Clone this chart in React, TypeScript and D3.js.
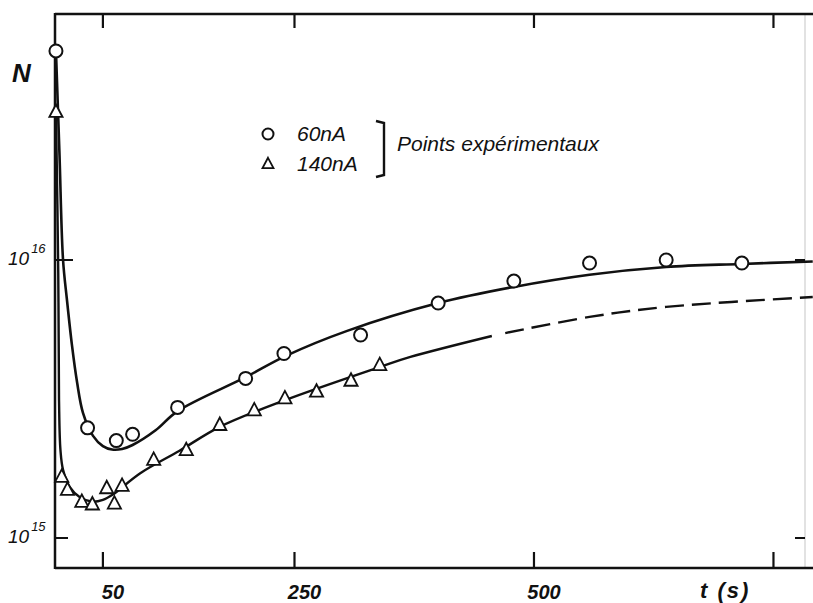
import React from "react";
import * as d3 from "d3";

// ---- data (t in seconds, N dimensionless) ----
const circT = [1, 34, 64, 81, 128, 199, 239, 319, 400, 479, 558, 638, 717];
const circN = [5.65e16, 2.49e15, 2.24e15, 2.36e15, 2.95e15, 3.75e15, 4.61e15, 5.37e15, 7.0e15, 8.4e15, 9.75e15, 1.0e16, 9.75e15];

const triT = [1, 7, 13, 28, 39, 54, 62, 70, 103, 137, 172, 208, 240, 273, 309, 339];
const triN = [3.41e16, 1.66e15, 1.49e15, 1.35e15, 1.32e15, 1.51e15, 1.33e15, 1.54e15, 1.91e15, 2.07e15, 2.55e15, 2.88e15, 3.18e15, 3.36e15, 3.68e15, 4.19e15];

const curve60T = [1, 4.7, 8.4, 12.5, 17.7, 23, 29.2, 39.7, 50, 59.5, 70, 81, 105, 128, 199, 241, 305, 400, 479, 558, 638, 717, 791];
const curve60N = [5.65e16, 2.39e16, 1.0e16, 7.18e15, 4.94e15, 3.64e15, 2.82e15, 2.33e15, 2.14e15, 2.08e15, 2.09e15, 2.16e15, 2.44e15, 2.86e15, 3.79e15, 4.52e15, 5.56e15, 7.0e15, 8.0e15, 8.85e15, 9.44e15, 9.68e15, 9.88e15];

const curve140T = [1, 3.4, 4.2, 5.7, 8.4, 15.7, 26, 39, 50, 60, 89, 130, 172, 240, 339, 371, 456];
const curve140N = [3.44e16, 8.98e15, 3.13e15, 2.07e15, 1.76e15, 1.52e15, 1.4e15, 1.35e15, 1.37e15, 1.43e15, 1.71e15, 2.06e15, 2.51e15, 3.13e15, 4.12e15, 4.48e15, 5.33e15];

const dashT = [470, 558, 638, 791];
const dashN = [5.46e15, 6.24e15, 6.78e15, 7.36e15];

const xTicks = [50, 250, 500, 750];
const xTickLabels = ["50", "250", "500", ""];
const yTicks = [1e15, 1e16];
const yTickExp = ["15", "16"];

const legendLabels = ["60nA", "140nA"];
const legendTitle = "Points expérimentaux";

const FONT = "'Liberation Sans', Arial, sans-serif";

export default function App() {
  const W = 813, H = 603;
  const x = d3.scaleLinear().domain([0, 792]).range([55, 813.7]);
  const y = d3.scaleLog().domain([Math.pow(10, 14.892), Math.pow(10, 16.885)]).range([568, 14]);
  const left = x(0), right = 805, top = 14, bottom = 568;

  const line = d3.line<[number, number]>()
    .x((d) => x(d[0]))
    .y((d) => y(d[1]))
    .curve(d3.curveCatmullRom.alpha(0.5));

  const zip = (a: number[], b: number[]) => a.map((v, i) => [v, b[i]] as [number, number]);

  const triPath = (cx: number, cy: number, s: number) =>
    `M${cx},${cy - s * 0.62}L${cx + s * 0.55},${cy + s * 0.42}L${cx - s * 0.55},${cy + s * 0.42}Z`;

  return (
    <svg width={W} height={H} style={{ position: "absolute", left: 0, top: 0, background: "#fff" }}>
      <rect x={0} y={0} width={W} height={H} fill="#fff" />
      {/* frame */}
      <line x1={right} x2={right} y1={top} y2={bottom} stroke="#d8d8d8" strokeWidth={1.5} />
      <line x1={left} x2={W} y1={top} y2={top} stroke="#111" strokeWidth={2.5} />
      <line x1={left} x2={W} y1={bottom} y2={bottom} stroke="#111" strokeWidth={2.5} />
      <line x1={left} x2={left} y1={top - 1} y2={bottom + 1} stroke="#111" strokeWidth={2.5} />

      {/* x ticks */}
      {xTicks.map((t, i) => (
        <g key={"xt" + i}>
          <line x1={x(t)} x2={x(t)} y1={bottom} y2={bottom - 16} stroke="#111" strokeWidth={2.2} />
          <line x1={x(t)} x2={x(t)} y1={top} y2={top + 14} stroke="#111" strokeWidth={2.2} />
          {xTickLabels[i] && (
            <text x={x(t) + 10} y={599} textAnchor="middle" fontFamily={FONT} fontStyle="italic" fontWeight="bold" fontSize={20} fill="#111">
              {xTickLabels[i]}
            </text>
          )}
        </g>
      ))}
      <text x={700} y={598} fontFamily={FONT} fontStyle="italic" fontWeight="bold" fontSize={22} fill="#111" letterSpacing={2}>
        t (s)
      </text>

      {/* y ticks */}
      {yTicks.map((v, i) => (
        <g key={"yt" + i}>
          <line x1={left} x2={left + (i === 1 ? 18 : 13)} y1={y(v)} y2={y(v)} stroke="#111" strokeWidth={2} />
          <line x1={right - 10} x2={right} y1={y(v)} y2={y(v)} stroke="#111" strokeWidth={2} />
          <text x={8} y={y(v) + 5} fontFamily={FONT} fontStyle="italic" fontSize={19} fill="#111">
            10
            <tspan dx={2} dy={-12} fontSize={13}>{yTickExp[i]}</tspan>
          </text>
        </g>
      ))}
      <text x={12} y={82} fontFamily={FONT} fontStyle="italic" fontWeight="bold" fontSize={26} fill="#111">N</text>

      {/* curves */}
      <path d={line(zip(curve60T, curve60N)) || ""} fill="none" stroke="#111" strokeWidth={2.6} />
      <path d={line(zip(curve140T, curve140N)) || ""} fill="none" stroke="#111" strokeWidth={2.4} />
      <path d={line(zip(dashT, dashN)) || ""} fill="none" stroke="#111" strokeWidth={2.4} strokeDasharray="19,8" />

      {/* markers */}
      {circT.map((t, i) => (
        <circle key={"c" + i} cx={x(t)} cy={y(circN[i])} r={6.5} fill="#fff" stroke="#111" strokeWidth={2} />
      ))}
      {triT.map((t, i) => (
        <path key={"t" + i} d={triPath(x(t), y(triN[i]), 12)} fill="#fff" stroke="#111" strokeWidth={1.8} strokeLinejoin="miter" />
      ))}

      {/* legend */}
      <circle cx={268} cy={134} r={5.5} fill="#fff" stroke="#111" strokeWidth={2} />
      <path d={triPath(268, 164, 10)} fill="#fff" stroke="#111" strokeWidth={1.8} />
      <text x={297} y={141} fontFamily={FONT} fontStyle="italic" fontSize={21} fill="#111">{legendLabels[0]}</text>
      <text x={297} y={171} fontFamily={FONT} fontStyle="italic" fontSize={21} fill="#111">{legendLabels[1]}</text>
      <path d="M376,121 L384,123 L384,175 L376,177" fill="none" stroke="#111" strokeWidth={2.4} />
      <text x={397} y={151} fontFamily={FONT} fontStyle="italic" fontSize={21} fill="#111">{legendTitle}</text>
    </svg>
  );
}
